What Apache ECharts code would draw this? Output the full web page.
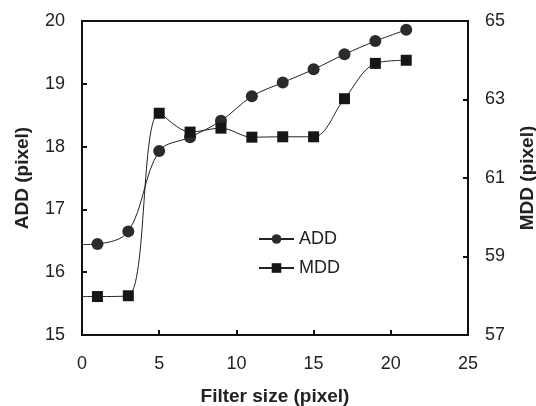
<!DOCTYPE html>
<html>
<head>
<meta charset="utf-8">
<script src="https://cdn.jsdelivr.net/npm/echarts@6/dist/echarts.min.js"></script>
<style>
  html, body { margin: 0; padding: 0; background: #fff; }
  #chart { width: 536px; height: 406px; }
</style>
</head>
<body>
<div id="chart"></div>
<script>
// Filter size (pixel) on the x axis
const filterSizes = [0, 1, 3, 5, 7, 9, 11, 13, 15, 17, 19, 21];
// ADD (pixel), left axis
const addValues = [16.44, 16.45, 16.65, 17.93, 18.15, 18.41, 18.80, 19.02, 19.23, 19.47, 19.68, 19.86];
// MDD (pixel), right axis
const mddValues = [57.98, 57.98, 58.0, 62.65, 62.17, 62.27, 62.04, 62.05, 62.05, 63.02, 63.92, 64.0];
// the curve runs in from the axis; the first sample carries no marker
const markerless = [true, false, false, false, false, false, false, false, false, false, false, false];

const fontFamily = 'Liberation Sans, Arial, sans-serif';

function pairs(values) {
  return filterSizes.map((x, i) => {
    const item = { value: [x, values[i]] };
    if (markerless[i]) item.symbol = 'none';
    return item;
  });
}

const axisLine = { show: true, lineStyle: { color: '#111', width: 2 } };
const axisTick = { show: true, inside: true, length: 5, lineStyle: { color: '#111', width: 2 } };
const tickLabel = { color: '#222', fontSize: 18, fontFamily: fontFamily };
const titleStyle = { color: '#222', fontSize: 19, fontWeight: 'bold', fontFamily: fontFamily };

const chart = echarts.init(document.getElementById('chart'), null, { renderer: 'canvas' });
chart.setOption({
  animation: false,
  backgroundColor: '#fff',
  grid: {
    left: 82, right: 68, top: 21, bottom: 71,
    outerBoundsMode: 'none',
    show: true, borderColor: '#111', borderWidth: 2, backgroundColor: 'transparent'
  },
  legend: {
    orient: 'vertical',
    left: 253, top: 225,
    itemWidth: 35, itemHeight: 12, itemGap: 11,
    textStyle: { color: '#222', fontSize: 18, fontFamily: fontFamily },
    data: ['ADD', 'MDD']
  },
  xAxis: {
    type: 'value', min: 0, max: 25, interval: 5,
    name: 'Filter size (pixel)', nameLocation: 'middle', nameGap: 52,
    nameTextStyle: titleStyle,
    axisLine: axisLine, axisTick: axisTick,
    axisLabel: Object.assign({ margin: 20 }, tickLabel),
    splitLine: { show: false }
  },
  yAxis: [
    {
      type: 'value', min: 15, max: 20, interval: 1, position: 'left',
      name: 'ADD (pixel)', nameLocation: 'middle', nameGap: 50, nameRotate: 90,
      nameTextStyle: titleStyle,
      axisLine: axisLine, axisTick: axisTick,
      axisLabel: Object.assign({ margin: 17 }, tickLabel),
      splitLine: { show: false }
    },
    {
      type: 'value', min: 57, max: 65, interval: 2, position: 'right',
      name: 'MDD (pixel)', nameLocation: 'middle', nameGap: 50, nameRotate: 90,
      nameTextStyle: titleStyle,
      axisLine: axisLine, axisTick: axisTick,
      axisLabel: Object.assign({ margin: 17 }, tickLabel),
      splitLine: { show: false }
    }
  ],
  series: [
    {
      name: 'ADD', type: 'line', yAxisIndex: 0,
      data: pairs(addValues),
      smooth: 0.35,
      symbol: 'circle', symbolSize: 12,
      lineStyle: { color: '#222', width: 1 },
      itemStyle: { color: '#2b2b2b', borderWidth: 0 }
    },
    {
      name: 'MDD', type: 'line', yAxisIndex: 1,
      data: pairs(mddValues),
      smooth: 0.35,
      symbol: 'rect', symbolSize: 11,
      lineStyle: { color: '#222', width: 1 },
      itemStyle: { color: '#161616', borderWidth: 0 }
    }
  ]
});
</script>
</body>
</html>
